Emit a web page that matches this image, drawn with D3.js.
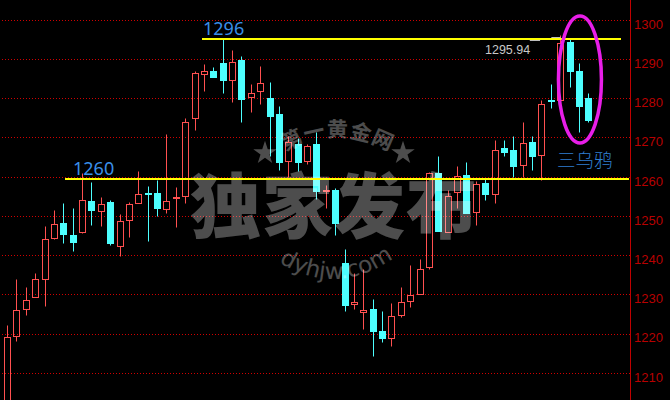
<!DOCTYPE html>
<html><head><meta charset="utf-8">
<style>html,body{margin:0;padding:0;background:#000}svg{display:block}</style>
<script src="https://cdn.jsdelivr.net/npm/d3@7"></script></head><body>
<svg id="c" width="670" height="400"></svg>
<script>
const opens  = [1198.09,1219.33,1226.32,1229.38,1233.86,1244.32,1248.07,1245.01,1245.85,1253.68,1251.20,1253.42,1242.28,1248.91,1253.24,1255.89,1255.72,1251.71,1254.44,1255.08,1274.92,1286.13,1286.82,1288.86,1284.60,1289.63,1280.37,1281.80,1279.94,1276.11,1263.95,1268.21,1263.95,1268.21,1256.30,1256.48,1237.87,1227.59,1225.55,1226.14,1220.78,1218.92,1224.69,1228.36,1230.14,1236.92,1260.82,1245.85,1256.15,1260.31,1251.05,1258.27,1255.54,1267.19,1266.93,1262.93,1268.97,1265.48,1279.61,1279.50,1294.22,1286.82,1279.94];
const closes = [1219.19,1226.06,1228.61,1233.97,1244.17,1247.99,1245.34,1243.30,1254.11,1251.38,1253.09,1242.97,1248.76,1253.09,1255.64,1255.54,1251.89,1253.85,1254.70,1274.00,1286.31,1286.82,1285.37,1284.60,1289.30,1279.68,1281.39,1283.94,1275.60,1263.87,1268.90,1263.87,1267.88,1256.30,1256.48,1248.32,1227.41,1228.10,1226.06,1220.78,1218.75,1224.53,1228.10,1229.89,1236.52,1260.99,1246.10,1255.13,1260.23,1250.79,1258.19,1255.46,1266.86,1266.42,1262.85,1268.64,1265.15,1278.59,1279.35,1294.14,1286.82,1278.15,1274.58];
const highs  = [1222.06,1233.79,1231.75,1235.57,1247.48,1251.38,1253.17,1251.89,1260.99,1258.52,1254.70,1253.93,1250.54,1253.60,1261.33,1257.50,1259.03,1270.76,1257.25,1275.02,1286.82,1288.61,1287.84,1294.98,1292.18,1290.65,1283.51,1288.10,1284.02,1278.15,1270.50,1269.74,1268.46,1271.27,1257.76,1256.99,1241.44,1235.57,1236.59,1228.69,1225.63,1227.67,1231.75,1237.36,1239.07,1261.25,1265.15,1256.48,1262.60,1263.87,1258.95,1259.29,1269.48,1269.23,1270.50,1274.07,1270.25,1279.43,1283.51,1296.00,1294.98,1288.86,1281.21];
const lows   = [1198.09,1218.06,1224.69,1229.38,1226.98,1244.06,1243.04,1241.00,1245.52,1247.81,1247.38,1242.46,1239.73,1244.50,1253.24,1243.73,1249.85,1250.62,1247.05,1253.17,1272.03,1281.72,1285.37,1281.21,1279.00,1273.82,1276.62,1278.41,1265.40,1261.58,1259.80,1261.33,1263.11,1254.19,1251.89,1245.26,1225.88,1226.14,1221.29,1214.41,1217.73,1216.96,1224.35,1226.90,1230.14,1236.34,1246.10,1245.85,1251.89,1250.62,1247.81,1253.93,1253.17,1265.15,1259.80,1259.80,1261.58,1259.03,1277.64,1279.50,1282.74,1271.27,1274.07];
const yTicks = [1300,1290,1280,1270,1260,1250,1240,1230,1220,1210];
const levels = [1295.24,1259.54];
const levelLabels = ["1296","1260"];
const priceNote = "1295.94";
const patternName = "三乌鸦";
const wmMain = "独家发布", wmArc = "第一黄金网", wmUrl = "dyhjw.com";
const markerStart = [55.7,58.0];
const markerEnd   = [56.8,59.0];
const markerPrice = [1294.8,1295.7];

const svg = d3.select("#c");
const W=670,H=400;
svg.append("rect").attr("width",W).attr("height",H).attr("fill","#000");
const x = d3.scaleLinear().domain([0,62]).range([7.6,588.85]);
const y = d3.scaleLinear().domain([1300,1210]).range([20.3,373.3]);
const py = v => Math.floor(y(v))+0.5;
const px = i => Math.floor(x(i))+0.5;
svg.append("defs").append("clipPath").attr("id","plot").append("rect").attr("width",630).attr("height",H);

// grid
svg.append("g").selectAll("line").data(yTicks).join("line")
  .attr("x1",2).attr("x2",630).attr("y1",py).attr("y2",py)
  .attr("stroke","#d00000").attr("stroke-dasharray","1 2");

// axis
const axis = d3.axisRight(y).tickValues(yTicks).tickSize(0).tickFormat(d3.format("d"));
const ag = svg.append("g").attr("transform","translate(630.5,0)").call(axis);
ag.select(".domain").attr("stroke","#c00000").attr("d",`M0,0V${H}`);
ag.selectAll("text").attr("fill","#b80000").attr("font-family","'Liberation Sans'").attr("font-size",13).attr("x",3.5).attr("dy","0.6em");

// candles
const idx = d3.range(opens.length);
const g = svg.append("g").attr("clip-path","url(#plot)");
const UP="#ff5050", DN="#4dffff";
const isUp = i => closes[i]>=opens[i];
g.selectAll("line.w1").data(idx).join("line").attr("class","w1")
  .attr("x1",px).attr("x2",px)
  .attr("y1",i=>py(highs[i])).attr("y2",i=>py(Math.max(opens[i],closes[i])))
  .attr("stroke",i=>isUp(i)?UP:DN);
g.selectAll("line.w2").data(idx).join("line").attr("class","w2")
  .attr("x1",px).attr("x2",px)
  .attr("y1",i=>py(Math.min(opens[i],closes[i]))).attr("y2",i=>py(lows[i]))
  .attr("stroke",i=>isUp(i)?UP:DN);
g.selectAll("rect").data(idx).join("rect")
  .attr("x",i=>px(i)-3).attr("width",6)
  .attr("y",i=>py(Math.max(opens[i],closes[i])))
  .attr("height",i=>Math.max(1,py(Math.min(opens[i],closes[i]))-py(Math.max(opens[i],closes[i]))))
  .attr("fill",i=>isUp(i)?"none":DN)
  .attr("stroke",i=>isUp(i)?UP:DN);

// small markers
svg.append("g").selectAll("line").data(markerPrice).join("line")
  .attr("x1",(d,i)=>x(markerStart[i])).attr("x2",(d,i)=>x(markerEnd[i]))
  .attr("y1",py).attr("y2",py).attr("stroke","#bdbdbd");

// watermark (white veil, one group so overlaps do not add up)
const wm = svg.append("g").attr("opacity",0.3).attr("fill","#fff");
wm.append("text").text(wmMain).attr("x",190).attr("y",232)
  .attr("font-family","'Noto Sans CJK SC'").attr("font-weight",900).attr("font-size",71).attr("letter-spacing",1);
const defs = svg.select("defs");
defs.append("path").attr("id","arcTop").attr("d","M278,156 Q335,118 398,156");
defs.append("path").attr("id","arcBot").attr("d","M270,256 Q335,304 402,252");
wm.append("text").attr("font-family","'Noto Sans CJK SC'").attr("font-weight",700).attr("font-size",21).attr("letter-spacing",1)
  .append("textPath").attr("href","#arcTop").attr("startOffset","50%").attr("text-anchor","middle").text(wmArc);
wm.append("text").attr("font-family","'DejaVu Sans'").attr("font-size",23)
  .append("textPath").attr("href","#arcBot").attr("startOffset","50%").attr("text-anchor","middle").text(wmUrl);
const star = d3.symbol().type(d3.symbolStar).size(170);
wm.selectAll("path.s").data([265,403]).join("path").attr("class","s").attr("d",star)
  .attr("transform",d=>`translate(${d},153)`);

// level lines
const lx = [[202,621],[65,629]];
const labelX = [203,73];
svg.append("g").selectAll("line").data(levels).join("line")
  .attr("x1",(d,i)=>lx[i][0]).attr("x2",(d,i)=>lx[i][1])
  .attr("y1",d=>Math.round(y(d))).attr("y2",d=>Math.round(y(d))).attr("stroke","#ffff00").attr("stroke-width",2);
svg.append("g").selectAll("text").data(levelLabels).join("text").text(d=>d)
  .attr("x",(d,i)=>labelX[i]).attr("y",(d,i)=>y(levels[i])-4)
  .attr("fill","#3a8fe8").attr("font-family","'Noto Sans'").attr("font-size",18);

// annotations
svg.append("text").text(priceNote).attr("x",485).attr("y",54).attr("fill","#c8c8c8")
  .attr("font-family","'Liberation Sans'").attr("font-size",12.5);
svg.append("text").text(patternName).attr("x",557).attr("y",167).attr("fill","#2f7fd0")
  .attr("font-family","'Noto Sans CJK SC'").attr("font-weight",300).attr("font-size",18.5);
svg.append("ellipse").attr("cx",x(61.05)).attr("cy",y(1284.9)).attr("rx",21.5).attr("ry",63.5)
  .attr("fill","none").attr("stroke","#e81ee8").attr("stroke-width",3.5);
</script></body></html>
